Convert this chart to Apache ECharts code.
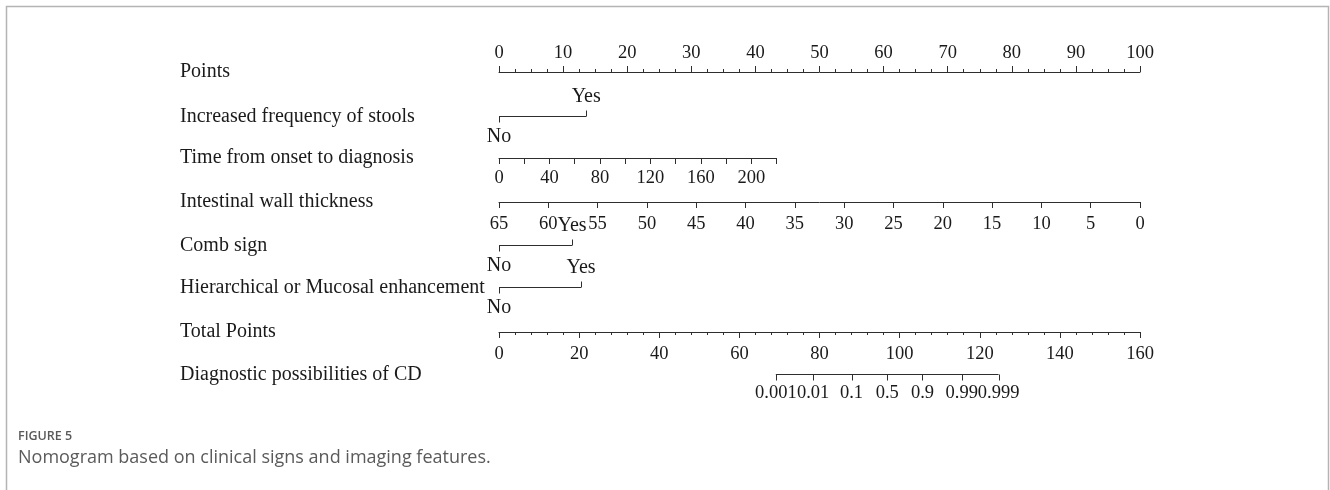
<!DOCTYPE html>
<html>
<head>
<meta charset="utf-8">
<script src="https://cdn.jsdelivr.net/npm/echarts@6/dist/echarts.min.js"></script>
<style>
html,body{margin:0;padding:0;background:#fff;}
#chart{width:1330px;height:490px;}
</style>
</head>
<body>
<div id="chart"></div>
<script>
// ---------- data ----------
const rowNames = [
  'Points',
  'Increased frequency of stools',
  'Time from onset to diagnosis',
  'Intestinal wall thickness',
  'Comb sign',
  'Hierarchical or Mucosal enhancement',
  'Total Points',
  'Diagnostic possibilities of CD'
];
const pointsRange = [0, 100];
const levelLabels = ['No', 'Yes'];
const stoolsPoints = [0, 13.6];
const combPoints = [0, 11.4];
const hierPoints = [0, 12.8];
const timeRange = [0, 220];          // days
const timePointsAtMax = 43.3;        // points reached at 220 days
const wallRange = [0, 65];           // mm, reversed: 65 -> 0 points, 0 -> 100 points
const totalRange = [0, 160];
const diagProbLabels = ['0.001', '0.01', '0.1', '0.5', '0.9', '0.99', '0.999'];
const diagTotalPoints = [69.1, 78.4, 88.0, 96.9, 105.7, 115.5, 124.7];

// ---------- layout ----------
const LEFT = 499, FULLW = 641;
const ROW_TOPS = [72, 116.5, 158, 202, 245.5, 287.5, 332, 374.5];
const LABEL_X = 180;
const SERIF = '"Liberation Serif", "Times New Roman", serif';
const FS = 20;        // row names, Yes/No
const FS_TICK = 18.5; // numeric tick labels
const LINE = '#2e2e2e';
const TXT = '#1a1a1a';

const widths = [
  FULLW, FULLW, FULLW * timePointsAtMax / 100, FULLW, FULLW, FULLW, FULLW, FULLW
];

const grids = rowNames.map((n, i) => ({
  left: LEFT, top: ROW_TOPS[i], width: widths[i], height: 0
}));

const yAxes = rowNames.map((n, i) => ({
  type: 'category', gridIndex: i, data: [n],
  axisLine: {show: false}, axisTick: {show: false}, splitLine: {show: false},
  axisLabel: {
    align: 'left', margin: LEFT - LABEL_X,
    fontFamily: SERIF, fontSize: FS, color: TXT
  }
}));

const baseLabel = {fontFamily: SERIF, fontSize: FS_TICK, color: TXT, showMinLabel: true, showMaxLabel: true};
const axLine = {show: true, lineStyle: {color: LINE, width: 1}};

const hiddenX = (i, range) => ({
  type: 'value', gridIndex: i, min: range[0], max: range[1], show: false
});

const xAxes = [
  { // Points
    type: 'value', gridIndex: 0, position: 'top', min: pointsRange[0], max: pointsRange[1], interval: 10,
    axisLine: axLine,
    axisTick: {show: true, inside: false, length: 6, lineStyle: {color: LINE}},
    minorTick: {show: true, splitNumber: 4, length: 3, lineStyle: {color: LINE}},
    splitLine: {show: false}, minorSplitLine: {show: false},
    axisLabel: Object.assign({margin: 9}, baseLabel)
  },
  hiddenX(1, pointsRange),
  { // Time
    type: 'value', gridIndex: 2, position: 'bottom', min: timeRange[0], max: timeRange[1], interval: 20,
    axisLine: axLine,
    axisTick: {show: true, length: 6, lineStyle: {color: LINE}},
    splitLine: {show: false},
    axisLabel: Object.assign({margin: 11, formatter: v => (v % 40 === 0 ? String(v) : '')}, baseLabel)
  },
  { // Wall thickness
    type: 'value', gridIndex: 3, position: 'bottom', min: wallRange[0], max: wallRange[1], interval: 5, inverse: true,
    axisLine: axLine,
    axisTick: {show: true, length: 6, lineStyle: {color: LINE}},
    splitLine: {show: false},
    axisLabel: Object.assign({margin: 12.5}, baseLabel)
  },
  hiddenX(4, pointsRange),
  hiddenX(5, pointsRange),
  { // Total points
    type: 'value', gridIndex: 6, position: 'bottom', min: totalRange[0], max: totalRange[1], interval: 20,
    axisLine: axLine,
    axisTick: {show: true, length: 6, lineStyle: {color: LINE}},
    minorTick: {show: true, splitNumber: 5, length: 3, lineStyle: {color: LINE}},
    splitLine: {show: false}, minorSplitLine: {show: false},
    axisLabel: Object.assign({margin: 13}, baseLabel)
  },
  hiddenX(7, totalRange)
];

function segmentSeries(idx, xs) {
  return {
    type: 'line', xAxisIndex: idx, yAxisIndex: idx,
    data: [[xs[0], 0], [xs[xs.length - 1], 0]],
    symbol: 'none', silent: true, animation: false,
    lineStyle: {color: LINE, width: 1}
  };
}

// categorical levels: even index -> tick down, label below; odd -> tick up, label above
function levelSeries(idx, xs, labels) {
  return {
    type: 'custom', xAxisIndex: idx, yAxisIndex: idx, silent: true, animation: false,
    data: xs.map((x, k) => [x, 0, k]),
    renderItem: function (params, api) {
      const p = api.coord([api.value(0), api.value(1)]);
      const k = api.value(2);
      const up = k % 2 === 1;
      const dir = up ? -1 : 1;
      const px = Math.round(p[0]) + 0.5;
      return {
        type: 'group',
        children: [
          {type: 'line', shape: {x1: px, y1: p[1], x2: px, y2: p[1] + dir * 6},
           style: {stroke: LINE, lineWidth: 1}},
          {type: 'text', x: p[0], y: p[1] + (up ? -19.5 : 20),
           style: {text: labels[k], align: 'center', verticalAlign: 'middle',
                   font: FS + 'px ' + SERIF, fill: TXT}}
        ]
      };
    }
  };
}

function diagSeries(idx, xs, labels) {
  return {
    type: 'custom', xAxisIndex: idx, yAxisIndex: idx, silent: true, animation: false,
    data: xs.map((x, k) => [x, 0, k]),
    renderItem: function (params, api) {
      const p = api.coord([api.value(0), api.value(1)]);
      const k = api.value(2);
      const px = Math.round(p[0]) + 0.5;
      return {
        type: 'group',
        children: [
          {type: 'line', shape: {x1: px, y1: p[1], x2: px, y2: p[1] + 6},
           style: {stroke: LINE, lineWidth: 1}},
          {type: 'text', x: p[0], y: p[1] + 19,
           style: {text: labels[k], align: 'center', verticalAlign: 'middle',
                   font: FS_TICK + 'px ' + SERIF, fill: TXT}}
        ]
      };
    }
  };
}

const series = [
  segmentSeries(1, stoolsPoints), levelSeries(1, stoolsPoints, levelLabels),
  segmentSeries(4, combPoints), levelSeries(4, combPoints, levelLabels),
  segmentSeries(5, hierPoints), levelSeries(5, hierPoints, levelLabels),
  segmentSeries(7, diagTotalPoints), diagSeries(7, diagTotalPoints, diagProbLabels)
];

const chart = echarts.init(document.getElementById('chart'), null, {renderer: 'canvas'});
chart.setOption({
  backgroundColor: '#fff',
  animation: false,
  grid: grids,
  xAxis: xAxes,
  yAxis: yAxes,
  series: series,
  graphic: [
    {type: 'polyline', shape: {points: [[6.5, 500], [6.5, 6.5], [1328.5, 6.5], [1328.5, 500]]},
     style: {stroke: '#b4b4b4', lineWidth: 1.5, fill: null}, silent: true},
    {type: 'text', left: 18, top: 430,
     style: {text: 'FIGURE 5', font: '600 12.5px "Open Sans", sans-serif', fill: '#5a5a5a'}},
    {type: 'text', left: 18, top: 449,
     style: {text: 'Nomogram based on clinical signs and imaging features.', font: '18px "Open Sans", sans-serif', fill: '#5a5a5a'}}
  ]
});
</script>
</body>
</html>
